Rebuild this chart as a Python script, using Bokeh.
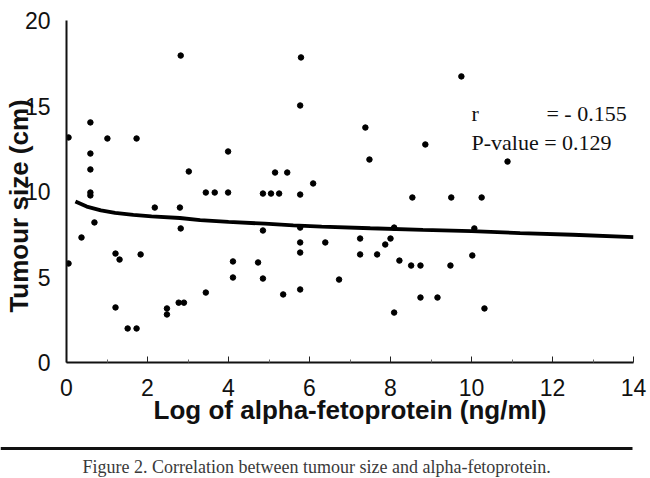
from bokeh.plotting import figure
from bokeh.layouts import column
from bokeh.models import Label, Range1d, FixedTicker
from bokeh.embed import file_html
from bokeh.resources import INLINE

# ---- data ----
afp_log = [0.05, 0.59, 0.59, 0.59, 0.59, 0.59, 1.01, 1.73, 2.18, 2.82,
           2.80, 3.02, 3.44, 3.66, 3.99, 3.99, 4.85, 5.05, 5.25, 5.15,
           5.45, 5.79, 5.77, 5.77, 6.09, 9.75, 7.38, 8.86, 7.48, 10.89,
           8.54, 9.50, 10.25, 0.05, 0.37, 0.69, 1.21, 1.31, 1.21, 1.51,
           1.73, 1.83, 2.48, 2.48, 2.82, 2.77, 2.90, 3.44, 4.11, 4.11,
           4.73, 4.85, 4.85, 5.35, 5.77, 5.77, 5.77, 5.77, 6.39, 7.25,
           7.25, 6.73, 7.67, 7.87, 8.00, 8.09, 8.22, 8.51, 8.74, 9.48,
           10.02, 10.07, 8.74, 9.16, 8.09, 10.32]
tumour_size = [13.16, 14.04, 12.22, 11.29, 9.94, 9.77, 13.1, 13.1, 9.06, 17.95,
               9.06, 11.17, 9.94, 9.94, 12.34, 9.94, 9.88, 9.88, 9.88, 11.11,
               11.11, 17.84, 15.03, 9.82, 10.47, 16.73, 13.74, 12.75, 11.87, 11.75,
               9.65, 9.65, 9.65, 5.79, 7.31, 8.19, 6.37, 6.02, 3.22, 1.99,
               1.99, 6.32, 3.16, 2.81, 7.84, 3.5, 3.5, 4.09, 5.91, 4.97,
               5.85, 4.91, 7.72, 3.98, 4.27, 6.43, 7.02, 7.89, 7.02, 7.25,
               6.32, 4.85, 6.32, 6.9, 7.25, 7.89, 5.96, 5.67, 5.67, 5.67,
               6.26, 7.84, 3.80, 3.80, 2.92, 3.16]

fit_x = [0.22, 0.5, 0.85, 1.2, 1.65, 2.1, 2.8, 3.3, 4.0, 4.9, 5.6, 6.3,
         7.5, 8.8, 10.0, 11.2, 12.5, 14.0]
fit_y = [9.42, 9.12, 8.9, 8.75, 8.63, 8.55, 8.45, 8.33, 8.22, 8.12, 8.02, 7.95,
         7.85, 7.75, 7.68, 7.57, 7.47, 7.33]

x_ticks = [0, 2, 4, 6, 8, 10, 12, 14]
x_minor = [1, 3, 5, 7, 9, 11, 13]
y_ticks = [0, 5, 10, 15, 20]

x_title = "Log of alpha-fetoprotein (ng/ml)"
y_title = "Tumour size (cm)"
stat_r_name = "r"
stat_r_val = "= - 0.155"
stat_p = "P-value = 0.129"
caption = "Figure 2. Correlation between tumour size and alpha-fetoprotein."

SANS = "Liberation Sans"
SERIF = "Liberation Serif"
INK = "#111111"

p = figure(width=650, height=436, x_range=Range1d(0, 14), y_range=Range1d(0, 20),
           output_backend="svg", toolbar_location=None,
           min_border_left=66, min_border_right=17, min_border_top=20,
           min_border_bottom=74)
p.outline_line_color = None
p.grid.visible = False

p.line(fit_x, fit_y, line_width=3.8, line_color="black")
p.scatter(afp_log, tumour_size, size=5.5, fill_color="black", line_color="black")

# x axis
p.xaxis.ticker = FixedTicker(ticks=x_ticks, minor_ticks=x_minor)
p.xaxis.axis_line_width = 2
p.xaxis.axis_line_color = INK
p.xaxis.major_tick_in = 6
p.xaxis.major_tick_out = 0
p.xaxis.minor_tick_in = 3
p.xaxis.minor_tick_out = 0
p.xaxis.major_tick_line_color = "#222222"
p.xaxis.minor_tick_line_color = "#666666"
p.xaxis.major_label_text_font = SANS
p.xaxis.major_label_text_font_size = "23px"
p.xaxis.major_label_text_color = INK
p.xaxis.major_label_standoff = 16
p.xaxis.axis_label = x_title
p.xaxis.axis_label_text_font = SANS
p.xaxis.axis_label_text_font_size = "26px"
p.xaxis.axis_label_text_font_style = "bold"
p.xaxis.axis_label_text_color = INK
p.xaxis.axis_label_standoff = -4

# y axis
p.yaxis.ticker = FixedTicker(ticks=y_ticks)
p.yaxis.axis_line_width = 2
p.yaxis.axis_line_color = INK
p.yaxis.major_tick_in = 0
p.yaxis.major_tick_out = 0
p.yaxis.minor_tick_line_color = None
p.yaxis.major_label_text_font = SANS
p.yaxis.major_label_text_font_size = "23px"
p.yaxis.major_label_text_color = INK
p.yaxis.major_label_standoff = 16
p.yaxis.axis_label = y_title + "\u00a0\u00a0\u00a0\u00a0"
p.yaxis.axis_label_text_font = SANS
p.yaxis.axis_label_text_font_size = "26px"
p.yaxis.axis_label_text_font_style = "bold"
p.yaxis.axis_label_text_color = INK
p.yaxis.axis_label_standoff = -12

for txt, x, y in [(stat_r_name, 10.0, 14.56), (stat_r_val, 11.85, 14.56),
                  (stat_p, 10.0, 12.87)]:
    p.add_layout(Label(x=x, y=y, text=txt, text_align="left",
                       text_baseline="alphabetic", text_font=SERIF,
                       text_font_size="22px", text_color=INK))

# caption strip
p2 = figure(width=650, height=42, x_range=Range1d(0, 650), y_range=Range1d(0, 42),
            output_backend="svg", toolbar_location=None, min_border=0)
p2.axis.visible = False
p2.grid.visible = False
p2.outline_line_color = None
p2.segment(x0=[0], y0=[30], x1=[632], y1=[30], line_width=3, line_color=INK)
p2.add_layout(Label(x=82, y=12, text=caption, text_align="left",
                    text_baseline="middle", text_font=SERIF,
                    text_font_size="18px", text_color="#3a3a3a"))

for fig in (p, p2):
    if "frame_align" in fig.properties():
        fig.frame_align = False

layout = column(p, p2, spacing=0)
open("out.html", "w").write(file_html(layout, INLINE))
